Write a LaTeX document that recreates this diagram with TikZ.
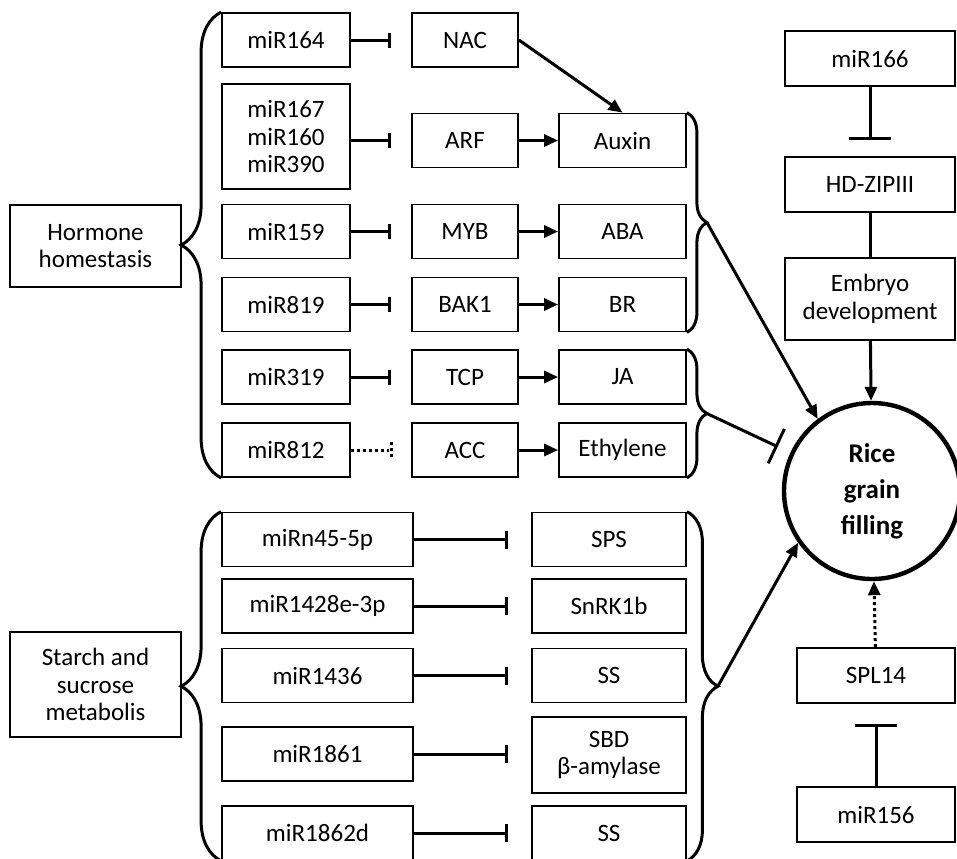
\documentclass[tikz,border=0pt]{standalone}
\usepackage{fontspec}
\setmainfont{Carlito}
\usetikzlibrary{arrows.meta,decorations.pathreplacing,calc}

\begin{document}
\begin{tikzpicture}[
  x=0.5pt, y=-0.5pt,
  font=\fontsize{12.5}{13.75}\selectfont,
  caja/.style={draw, line width=0.9pt, inner sep=0pt, align=center},
  mirna/.style={caja, minimum width=64pt, minimum height=27pt},
  gen/.style={caja, minimum width=53pt, minimum height=27pt},
  hormona/.style={caja, minimum width=63.5pt, minimum height=27pt},
  smir/.style={caja, minimum width=95.5pt, minimum height=27pt},
  sgen/.style={caja, minimum width=77pt, minimum height=27pt},
  dcha/.style={caja, minimum width=85pt, minimum height=27.5pt},
  grupo/.style={caja, minimum width=85.5pt},
  inhibe/.style={line width=1.5pt, -{Bar[width=#1]}},
  inhibe/.default=7.5pt,
  activa/.style={line width=1.5pt, -{Triangle[length=7pt,width=6pt]}},
  punteado/.style={dash pattern=on 1.5pt off 1.5pt},
  llave/.style={line width=1.5pt, decorate, decoration={brace, amplitude=#1}}]
  \useasboundingbox (0,0) rectangle (957,858);

  % hormone homestasis
  \node[mirna] (m164) at (286,40) {miR164};
  \node[mirna, minimum height=52.5pt] (m167) at (286,136.5) {miR167\\miR160\\miR390};
  \node[mirna] (m159) at (286,231.5) {miR159};
  \node[mirna] (m819) at (286,304.5) {miR819};
  \node[mirna] (m319) at (286,377) {miR319};
  \node[mirna] (m812) at (286,450) {miR812};
  \node[gen] (nac) at (465,40) {NAC};
  \node[gen] (arf) at (465,140.5) {ARF};
  \node[gen] (myb) at (465,231.5) {MYB};
  \node[gen] (bak) at (465,304.5) {BAK1};
  \node[gen] (tcp) at (465,377) {TCP};
  \node[gen] (acc) at (465,450) {ACC};
  \node[hormona] (auxin) at (622.5,140.5) {Auxin};
  \node[hormona] (aba) at (622.5,231.5) {ABA};
  \node[hormona] (br) at (622.5,304.5) {BR};
  \node[hormona] (ja) at (622.5,377) {JA};
  \node[hormona] (eth) at (622.5,450) {Ethylene};
  \foreach \a/\b in {m164/nac, m159/myb, m819/bak, m319/tcp}
    \draw[inhibe] (\a.east) -- ([xshift=-10pt]\b.west |- \a.east);
  \draw[inhibe] (m167.east |- arf.west) -- ([xshift=-10pt]arf.west);
  \draw[line width=1.5pt, punteado] (m812.east) -- ([xshift=-11pt]acc.west);
  \draw[line width=1.5pt, punteado] ([xshift=-10pt, yshift=4pt]acc.west) -- ([xshift=-10pt, yshift=-4pt]acc.west);
  \foreach \a/\b in {arf/auxin, myb/aba, bak/br, tcp/ja, acc/eth}
    \draw[activa] (\a) -- (\b);
  \draw[activa] (nac.east) -- (auxin.north);
  \node[grupo, minimum height=41pt] (hormone) at (95.5,246) {Hormone\\homestasis};
  \draw[llave=20pt] (m812.south west) -- (m164.north west);

  % starch and sucrose
  \node[smir] (n45) at (317.5,539.5) {miRn45-5p};
  \node[smir] (m1428) at (317.5,606) {miR1428e-3p};
  \node[smir] (m1436) at (317.5,675.5) {miR1436};
  \node[smir] (m1861) at (317.5,754) {miR1861};
  \node[smir] (m1862) at (317.5,833) {miR1862d};
  \node[sgen] (sps) at (609,539.5) {SPS};
  \node[sgen] (snrk) at (609,606) {SnRK1b};
  \node[sgen] (ss1) at (609,675.5) {SS};
  \node[sgen, minimum height=38pt] (sbd) at (609,755) {SBD\\β-amylase};
  \node[sgen] (ss2) at (609,833) {SS};
  \foreach \a/\b in {n45/sps, m1428/snrk, m1436/ss1, m1861/sbd, m1862/ss2}
    \draw[inhibe=9pt] (\a.east) -- ([xshift=-11.5pt]\b.west |- \a.east);
  \node[grupo, minimum height=52.5pt] (starch) at (95.5,684.5) {Starch and\\sucrose\\metabolis};
  \draw[llave=20pt] (m1862.south west) -- (n45.north west);

  % rice grain filling
  \node[circle, draw, line width=2.2pt, minimum size=88pt, inner sep=0pt, align=center,
    font=\fontsize{13.5}{18}\selectfont\bfseries] (rice) at (872,491) {Rice\\grain\\filling};
  \draw[llave=10pt] (auxin.north east) -- (br.south east);
  \coordinate (auxtip) at ([xshift=10pt]$(auxin.north east)!.5!(br.south east)$);
  \draw[activa] (auxtip) -- (rice.127);
  \draw[llave=10pt] (ja.north east) -- (eth.south east);
  \coordinate (jatip) at ([xshift=10pt]$(ja.north east)!.5!(eth.south east)$);
  \draw[inhibe=19pt, shorten >=7pt] (jatip) -- (rice);
  \draw[llave=15.5pt] (sps.north east) -- (ss2.south east);
  \coordinate (stip) at ([xshift=15.5pt]$(sps.north east)!.5!(ss2.south east)$);
  \draw[activa] (stip) -- (rice.215);

  % right column
  \node[dcha] (m166) at (870,58.5) {miR166};
  \node[dcha] (hd) at (870,184.5) {HD-ZIPIII};
  \node[dcha, minimum height=41pt] (emb) at (870,299) {Embryo\\development};
  \draw[inhibe=21pt] (m166) -- ([yshift=8pt]hd.north);
  \draw[line width=1.5pt] (hd) -- (emb);
  \draw[activa] (emb) -- (rice);
  \node[dcha, minimum width=79pt] (spl) at (876,675.5) {SPL14};
  \node[dcha, minimum width=79pt] (m156) at (876,814.5) {miR156};
  \draw[inhibe=21pt] (m156) -- ([yshift=-10pt]spl.south);
  \draw[activa, punteado] (spl) -- (rice);
\end{tikzpicture}
\end{document}
